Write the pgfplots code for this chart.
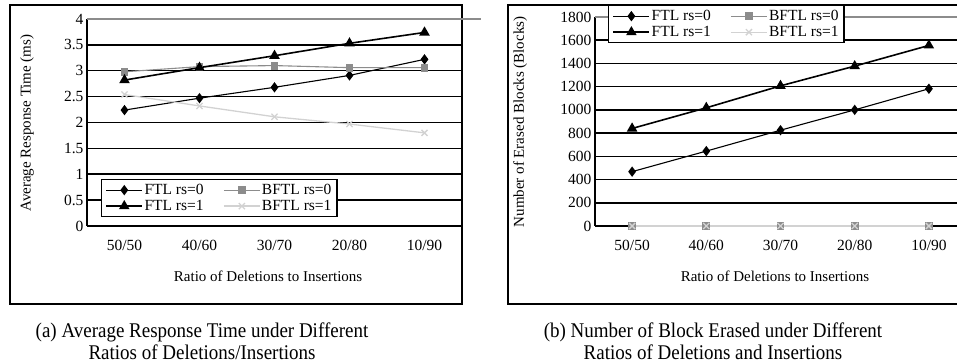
\documentclass[border=0pt]{standalone}
\usepackage{pgfplots}
\pgfplotsset{compat=1.18}
\usepackage{fontspec}
\setmainfont{Liberation Serif}
\definecolor{gA}{HTML}{8C8C8C}
\definecolor{gB}{HTML}{D2D2D2}
\newcommand{\tf}{\fontsize{15.5}{17}\selectfont}
\newcommand{\lf}{\fontsize{15}{17}\selectfont}
\pgfplotsset{
  common/.style={
    scale only axis,
    xmin=-0.5, xmax=4.5,
    axis lines*=left,
    axis line style={line width=1.3pt},
    xtick={0,1,2,3,4},
    xticklabels={50/50,40/60,30/70,20/80,10/90},
    x tick style={draw=none},
    extra x ticks={0.5,1.5,2.5,3.5},
    extra x tick labels={},
    extra x tick style={major tick length=6pt, tick align=inside, tick style={draw=black, line width=1.3pt}},
    xticklabel style={font=\tf, yshift=-11pt},
    yticklabel style={font=\tf},
    y tick style={draw=none},
    ymajorgrids,
    grid style={black, line width=1.5pt},
    /pgf/number format/assume math mode=true,
    /pgf/number format/1000 sep={},
    clip=false,
    xlabel={Ratio of Deletions to Insertions},
    xlabel style={font=\lf},
    ylabel style={font=\lf},
    legend columns=2,
    legend cell align=left,
    legend style={draw=black, line width=1.2pt, fill=white, font=\tf,
      inner xsep=4pt, inner ysep=2pt,
      /tikz/every even column/.append style={column sep=18pt},
      row sep=-1pt,
      nodes={inner sep=1.5pt, text height=11pt, text depth=3pt}},
    legend image code/.code={\draw[mark repeat=2,mark phase=2] plot coordinates {(0pt,0pt)(18pt,0pt)(36pt,0pt)};},
  },
  sA/.style={black, line width=1.1pt, mark=diamond*, mark size=4.3pt, mark options={solid, fill=black}},
  sB/.style={gA, line width=1.1pt, mark=square*, mark size=3.4pt, mark options={solid, fill=gA}},
  sC/.style={black, line width=1.6pt, mark=triangle*, mark size=4.5pt, mark options={solid, fill=black}},
  sD/.style={gB, line width=1.3pt, mark=x, mark size=4.3pt, mark options={solid, line width=1.3pt}},
}
\begin{document}
\begin{tikzpicture}[x=1pt,y=1pt]
\useasboundingbox (0,0) rectangle (957,363);
\clip (0,0) rectangle (957,363);
% frames
\draw[line width=1.3pt] (10,358) rectangle (462,59);
\draw[line width=1.3pt] (508,358) rectangle (980,59);
% left chart
\begin{axis}[common,
  at={(87pt,137pt)}, anchor=south west,
  width=375pt, height=207pt,
  ymin=0, ymax=4, ytick={0,0.5,1,1.5,2,2.5,3,3.5,4},
  ylabel={Average Response Time (ms)},
  ylabel style={at={(axis description cs:-0.16,0.497)}, anchor=center},
  xlabel style={at={(axis description cs:0.483,-0.242)}, anchor=center},
  legend style={at={(axis description cs:0.037,0.227)}, anchor=north west},
]
\addplot[sA] coordinates {(0,2.24) (1,2.47) (2,2.68) (3,2.91) (4,3.22)};
\addlegendentry{FTL rs=0}
\addplot[sB] coordinates {(0,2.98) (1,3.08) (2,3.10) (3,3.06) (4,3.06)};
\addlegendentry{BFTL rs=0}
\addplot[sC] coordinates {(0,2.82) (1,3.06) (2,3.29) (3,3.53) (4,3.74)};
\addlegendentry{FTL rs=1}
\addplot[sD] coordinates {(0,2.54) (1,2.32) (2,2.11) (3,1.97) (4,1.80)};
\addlegendentry{BFTL rs=1}
\draw[gA, line width=1.5pt] (axis cs:-0.5,4) -- (axis cs:4.75,4);
\end{axis}
% right chart
\begin{axis}[common,
  at={(595pt,137pt)}, anchor=south west,
  width=371pt, height=209pt,
  ymin=0, ymax=1800, ytick={0,200,...,1800},
  ylabel={Number of Erased Blocks (Blocks)},
  ylabel style={at={(axis description cs:-0.202,0.498)}, anchor=center},
  xlabel style={at={(axis description cs:0.485,-0.239)}, anchor=center},
  legend style={at={(axis description cs:0.035,1.057)}, anchor=north west},
]
\draw[gA, line width=1.5pt] (axis cs:-0.5,1800) -- (axis cs:4.5,1800);
\addplot[sA] coordinates {(0,468) (1,645) (2,825) (3,1000) (4,1182)};
\addlegendentry{FTL rs=0}
\addplot[sB] coordinates {(0,0) (1,0) (2,0) (3,0) (4,0)};
\addlegendentry{BFTL rs=0}
\addplot[sC] coordinates {(0,840) (1,1018) (2,1207) (3,1377) (4,1555)};
\addlegendentry{FTL rs=1}
\addplot[sD] coordinates {(0,0) (1,0) (2,0) (3,0) (4,0)};
\addlegendentry{BFTL rs=1}
\end{axis}
% captions
\node[align=center, font=\fontsize{19}{20}\selectfont, yscale=1.1, inner sep=0pt] at (202,22) {(a) Average Response Time under Different\\Ratios of Deletions/Insertions};
\node[align=center, font=\fontsize{19}{20}\selectfont, yscale=1.1, inner sep=0pt] at (713,22) {(b) Number of Block Erased under Different\\Ratios of Deletions and Insertions};
\end{tikzpicture}
\end{document}
